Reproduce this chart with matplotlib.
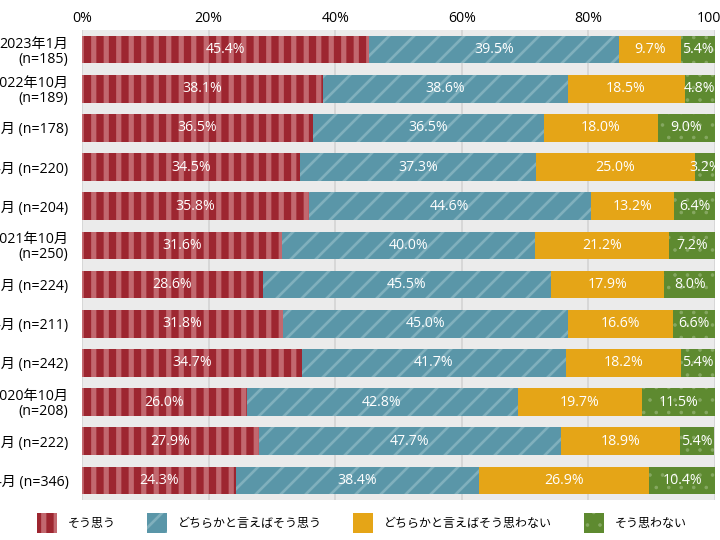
import matplotlib.pyplot as plt
import numpy as np

plt.rcParams['font.family'] = ['Open Sans', 'Noto Sans CJK JP', 'DejaVu Sans']

# survey periods (top to bottom)
periods = ['2023年1月\n(n=185)', '2022年10月\n(n=189)', '2022年7月 (n=178)', '2022年4月 (n=220)',
           '2022年1月 (n=204)', '2021年10月\n(n=250)', '2021年7月 (n=224)', '2021年4月 (n=211)',
           '2021年1月 (n=242)', '2020年10月\n(n=208)', '2020年7月 (n=222)', '2020年4月 (n=346)']
agree = [45.4, 38.1, 36.5, 34.5, 35.8, 31.6, 28.6, 31.8, 34.7, 26.0, 27.9, 24.3]
rather_agree = [39.5, 38.6, 36.5, 37.3, 44.6, 40.0, 45.5, 45.0, 41.7, 42.8, 47.7, 38.4]
rather_disagree = [9.7, 18.5, 18.0, 25.0, 13.2, 21.2, 17.9, 16.6, 18.2, 19.7, 18.9, 26.9]
disagree = [5.4, 4.8, 9.0, 3.2, 6.4, 7.2, 8.0, 6.6, 5.4, 11.5, 5.4, 10.4]
series_names = ['そう思う', 'どちらかと言えばそう思う', 'どちらかと言えばそう思わない', 'そう思わない']
x_ticks = [0, 20, 40, 60, 80, 100]

colors = ['#9d2630', '#5a96a8', '#e5a517', '#5e8a30']
hatch_colors = ['#c2686f', '#80b0bd', '#e5a517', '#86a862']
hatches = ['|', '/', '', '.']
hatch_lw = [5.0, 2.6, 1.0, 1.0]

fig = plt.figure(figsize=(9.6, 7.2), dpi=75)
ax = fig.add_axes([82 / 720, 40 / 540, 633 / 720, 470 / 540])
ax.set_facecolor('#ebebeb')

y = np.arange(len(periods))
left = np.zeros(len(periods))
handles = []
for vals, name, c, hc, h, lw in zip([agree, rather_agree, rather_disagree, disagree],
                                    series_names, colors, hatch_colors, hatches, hatch_lw):
    vals = np.array(vals)
    with plt.rc_context({'hatch.linewidth': lw}):
        bars = ax.barh(y, vals, left=left, height=0.71, color=c, edgecolor=hc,
                       hatch=h, linewidth=0, label=name, zorder=2)
    for p in bars:
        if hasattr(p, 'set_hatch_linewidth'):
            p.set_hatch_linewidth(lw)
    handles.append(bars)
    for yi, l, v in zip(y, left, vals):
        ax.text(l + v / 2, yi, f'{v:.1f}%', ha='center', va='center',
                color='white', fontsize=13.5, zorder=3)
    left += vals

ax.set_xlim(0, 100)
ax.set_ylim(len(periods) - 0.5, -0.5)
ax.set_xticks(x_ticks)
ax.set_xticklabels([f'{t}%' for t in x_ticks])
ax.xaxis.tick_top()
ax.tick_params(axis='x', length=0, pad=4, labelsize=13.5)
ax.set_yticks(y)
ax.set_yticklabels(periods, multialignment='right', linespacing=1.0)
ax.tick_params(axis='y', length=0, pad=13, labelsize=13.5)
ax.grid(axis='x', color='#d2d2d2', linewidth=1.5, zorder=1)
ax.set_axisbelow(True)
for s in ax.spines.values():
    s.set_visible(False)

leg = fig.legend(handles=handles, loc='center left', bbox_to_anchor=(37 / 720, 1 - 523 / 540),
                 ncol=4, frameon=False, fontsize=11.5, handlelength=1.67, handleheight=2.2,
                 columnspacing=2.6, handletextpad=0.92, borderpad=0, borderaxespad=0)
for p, lw in zip(leg.get_patches(), hatch_lw):
    p.set_linewidth(0)
    if hasattr(p, 'set_hatch_linewidth'):
        p.set_hatch_linewidth(lw)

plt.savefig('out.png', dpi=75)
